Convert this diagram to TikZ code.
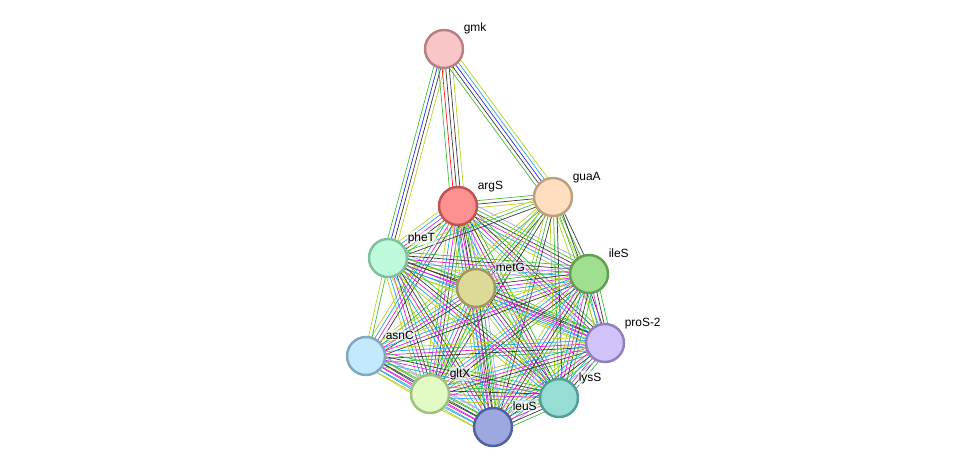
\documentclass[tikz,border=0pt]{standalone}
\usepackage{fontspec}
\setmainfont{Liberation Sans}
\usetikzlibrary{calc}
\pgfdeclarelayer{bg}
\pgfsetlayers{bg,main}

% STRING evidence colours
\definecolor{cnbh}{HTML}{3DBF3D}
\definecolor{cfus}{HTML}{F02020}
\definecolor{ccoo}{HTML}{2A2AF0}
\definecolor{ccoex}{HTML}{3A3A3A}
\definecolor{cexp}{HTML}{DD22DD}
\definecolor{cdb}{HTML}{22A8E0}
\definecolor{ctxt}{HTML}{B8D222}
\definecolor{chom}{HTML}{A8A8F8}

\tikzset{
  nbh/.style={draw=cnbh},
  fus/.style={draw=cfus},
  coo/.style={draw=ccoo},
  coex/.style={draw=ccoex},
  exp/.style={draw=cexp},
  db/.style={draw=cdb},
  txt/.style={draw=ctxt},
  hom/.style={draw=chom}
}

% one edge = several parallel coloured lines
\newcommand{\evedge}[3]{%
  \foreach \c [count=\i] in {#3} {\xdef\ncol{\i}}
  \foreach \c [count=\i] in {#3} {
    \pgfmathsetlengthmacro{\off}{(\i-(\ncol+1)/2)*2pt}
    \draw[\c] ($(#1.center)!\off!90:(#2.center)$) -- ($(#2.center)!\off!-90:(#1.center)$);
  }%
}

\begin{document}
\begin{tikzpicture}[x=0.02cm,y=-0.02cm,line width=0.8pt,
    prot/.style={circle,minimum size=0.76cm,inner sep=0pt,line width=1.4pt},
    lbl/.style={anchor=base west,font=\fontsize{6.8}{8}\selectfont,fill=white,fill opacity=0.6,text opacity=1,inner sep=0.6pt}]
  \useasboundingbox (0,0) rectangle (976,473);

  \node[prot,fill={rgb,255:red,248;green,198;blue,198},draw={rgb,255:red,184;green,128;blue,128}] (gmk) at (444,49) {};
  \node[prot,fill={rgb,255:red,253;green,144;blue,144},draw={rgb,255:red,192;green,84;blue,84}] (argS) at (458,206) {};
  \node[prot,fill={rgb,255:red,255;green,223;blue,192},draw={rgb,255:red,190;green,160;blue,128}] (guaA) at (553,197) {};
  \node[prot,fill={rgb,255:red,192;green,250;blue,220},draw={rgb,255:red,128;green,192;blue,160}] (pheT) at (388,258) {};
  \node[prot,fill={rgb,255:red,220;green,218;blue,150},draw={rgb,255:red,160;green,152;blue,96}] (metG) at (476,288) {};
  \node[prot,fill={rgb,255:red,160;green,222;blue,144},draw={rgb,255:red,96;green,160;blue,80}] (ileS) at (589,274) {};
  \node[prot,fill={rgb,255:red,210;green,194;blue,250},draw={rgb,255:red,144;green,128;blue,192}] (proS) at (605,343) {};
  \node[prot,fill={rgb,255:red,196;green,232;blue,252},draw={rgb,255:red,128;green,168;blue,192}] (asnC) at (366,356) {};
  \node[prot,fill={rgb,255:red,226;green,251;blue,196},draw={rgb,255:red,160;green,192;blue,128}] (gltX) at (430,394) {};
  \node[prot,fill={rgb,255:red,152;green,221;blue,213},draw={rgb,255:red,80;green,160;blue,152}] (lysS) at (559,398) {};
  \node[prot,fill={rgb,255:red,158;green,168;blue,224},draw={rgb,255:red,80;green,96;blue,160}] (leuS) at (493,427) {};

  % labels
  \node[lbl] (gmk-l)  at ($(gmk.center)+(18,-17)$)  {gmk};
  \node[lbl] (argS-l) at ($(argS.center)+(18,-17)$) {argS};
  \node[lbl] (guaA-l) at ($(guaA.center)+(18,-17)$) {guaA};
  \node[lbl] (pheT-l) at ($(pheT.center)+(18,-17)$) {pheT};
  \node[lbl] (metG-l) at ($(metG.center)+(18,-17)$) {metG};
  \node[lbl] (ileS-l) at ($(ileS.center)+(18,-17)$) {ileS};
  \node[lbl] (proS-l) at ($(proS.center)+(18,-17)$) {proS-2};
  \node[lbl] (asnC-l) at ($(asnC.center)+(18,-17)$) {asnC};
  \node[lbl] (gltX-l) at ($(gltX.center)+(18,-17)$) {gltX};
  \node[lbl] (lysS-l) at ($(lysS.center)+(18,-17)$) {lysS};
  \node[lbl] (leuS-l) at ($(leuS.center)+(18,-17)$) {leuS};

  \begin{pgfonlayer}{bg}
    \evedge{gmk}{pheT}{nbh,coo,coex,txt}
    \evedge{gmk}{argS}{nbh,fus,coex,coex,txt}
    \evedge{gmk}{guaA}{nbh,coex,coo,db,txt}
    \foreach \a/\b/\cs in {
        argS/guaA/{txt,coex,nbh},
        argS/pheT/{txt,db,exp,coex,nbh},
        argS/metG/{txt,db,exp,coex,nbh,hom},
        argS/ileS/{txt,db,exp,coex,nbh,hom},
        argS/proS/{txt,db,exp,coex,nbh},
        argS/asnC/{txt,db,exp,coex},
        argS/gltX/{txt,db,exp,coex,nbh},
        argS/lysS/{txt,db,exp,coex,nbh},
        argS/leuS/{txt,db,exp,coex,nbh,hom},
        guaA/pheT/{txt,nbh,coex},
        guaA/metG/{txt,nbh,coex},
        guaA/ileS/{txt,nbh,coex},
        guaA/proS/{txt,nbh,coex},
        guaA/asnC/{txt,nbh},
        guaA/gltX/{txt,nbh,coex},
        guaA/lysS/{txt,nbh,coex},
        guaA/leuS/{txt,nbh,coex},
        pheT/metG/{txt,db,exp,coex,nbh,hom},
        pheT/ileS/{txt,db,exp,coex,nbh},
        pheT/proS/{txt,db,exp,coex,nbh},
        pheT/asnC/{txt,nbh},
        pheT/gltX/{txt,db,exp,coex,nbh},
        pheT/lysS/{txt,db,exp,coex,nbh},
        pheT/leuS/{txt,db,exp,coex,nbh},
        metG/ileS/{txt,db,exp,coex,nbh,hom},
        metG/proS/{txt,db,exp,coex,nbh},
        metG/asnC/{txt,db,exp,coex},
        metG/gltX/{txt,db,exp,coex,nbh},
        metG/lysS/{txt,db,exp,coex,nbh},
        metG/leuS/{txt,db,exp,coex,nbh,hom},
        ileS/proS/{txt,db,exp,coex,nbh},
        ileS/asnC/{txt,db,exp,coex},
        ileS/gltX/{txt,db,exp,coex,nbh},
        ileS/lysS/{txt,db,exp,coex,nbh},
        ileS/leuS/{txt,db,exp,coex,nbh,hom},
        proS/asnC/{txt,db,exp,coex,nbh},
        proS/gltX/{txt,db,exp,coex,nbh},
        proS/lysS/{txt,db,exp,coex,nbh},
        proS/leuS/{txt,db,exp,coex,nbh,hom},
        asnC/gltX/{txt,db,exp,coex,nbh,hom},
        asnC/lysS/{txt,db,exp,coex,nbh},
        asnC/leuS/{txt,db,exp,coex,nbh,hom},
        gltX/lysS/{txt,db,exp,coex,nbh},
        gltX/leuS/{txt,db,exp,coex,nbh,hom},
        lysS/leuS/{txt,db,exp,coex,nbh}}
      {\edef\doedge{\noexpand\evedge{\a}{\b}{\cs}}\doedge}
  \end{pgfonlayer}
\end{tikzpicture}
\end{document}
